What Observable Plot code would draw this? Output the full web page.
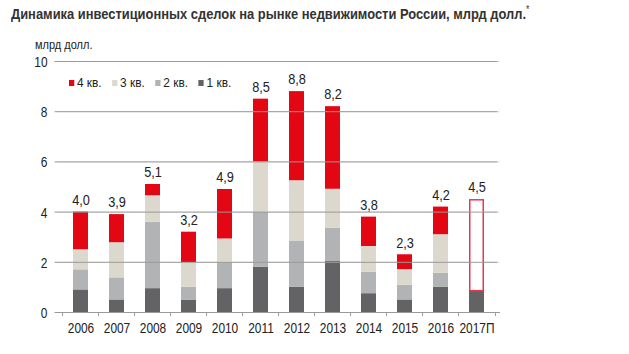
<!DOCTYPE html>
<html>
<head>
<meta charset="utf-8">
<script src="https://cdn.jsdelivr.net/npm/d3@7"></script>
<script src="https://cdn.jsdelivr.net/npm/@observablehq/plot@0.6"></script>
<style>
  html, body { margin: 0; padding: 0; background: #fff; }
  #wrap { position: relative; width: 629px; height: 354px; overflow: hidden; font-family: "Liberation Sans", Arial, sans-serif; }
  #title { position: absolute; left: 11px; top: 4px; font-weight: bold; font-size: 15px; color: #333; white-space: nowrap; transform: scaleX(0.86); transform-origin: left center; }
  #title sup { font-size: 10px; font-weight: normal; }
  #unit { position: absolute; left: 35px; top: 38px; font-size: 12.5px; line-height: 14px; color: #222; transform: scaleX(0.88); transform-origin: left center; }
  #legend { position: absolute; left: 69px; top: 75px; font-size: 13.5px; color: #222; display: flex; transform: scaleX(0.88); transform-origin: left center; }
  #legend span.item { display: inline-flex; align-items: center; margin-right: 12px; }
  #legend span.sw { width: 6px; height: 6px; display: inline-block; margin-right: 3px; }
  #chart { position: absolute; left: 0; top: 0; }
</style>
</head>
<body>
<div id="wrap">
  <div id="chart"></div>
  <div id="title">Динамика инвестиционных сделок на рынке недвижимости России, млрд долл.<sup>*</sup></div>
  <div id="unit">млрд долл.</div>
  <div id="legend"></div>
</div>
<script>
const years = ["2006","2007","2008","2009","2010","2011","2012","2013","2014","2015","2016","2017П"];
const q1 = [0.90, 0.50, 0.95, 0.48, 0.95, 1.80, 1.00, 2.03, 0.75, 0.50, 1.00, 0.85];
const q2 = [0.80, 0.88, 2.65, 0.53, 1.05, 2.20, 1.85, 1.33, 0.85, 0.58, 0.57, 0];
const q3 = [0.80, 1.40, 1.05, 0.98, 0.93, 2.00, 2.40, 1.55, 1.03, 0.63, 1.53, 0];
const q4 = [1.50, 1.12, 0.45, 1.21, 1.97, 2.50, 3.55, 3.29, 1.17, 0.59, 1.10, 0];
const totals = [4.0, 3.9, 5.1, 3.2, 4.9, 8.5, 8.8, 8.2, 3.8, 2.3, 4.2, 4.5];
const forecastYear = "2017П";
const seriesNames = ["1 кв.", "2 кв.", "3 кв.", "4 кв."];
const seriesColors = ["#636366", "#b2b3b5", "#ddd8ce", "#e30613"];
const yTicks = [0, 2, 4, 6, 8, 10];

const long = [];
years.forEach((yr, i) => {
  [q1, q2, q3, q4].forEach((arr, k) => {
    if (arr[i] > 0) long.push({year: yr, series: seriesNames[k], value: arr[i], order: k});
  });
});
const forecast = years.map((yr, i) => ({year: yr, base: q1[i], total: totals[i]})).filter(d => d.year === forecastYear);
const labels = years.map((yr, i) => ({year: yr, total: totals[i], text: totals[i].toFixed(1).replace(".", ",")}));

const W = 629, H = 344, mL = 57, mR = 129;
const pIn = 0.59, pOut = 0.3;
const step = (W - mL - mR) / (years.length - pIn + 2 * pOut);

const chart = Plot.plot({
  width: W, height: H,
  marginTop: 61, marginBottom: 32, marginLeft: mL, marginRight: mR,
  style: {fontFamily: '"Liberation Sans", Arial, sans-serif', fontSize: "12.5px", color: "#222", background: "transparent"},
  x: {domain: years, paddingInner: pIn, paddingOuter: pOut, label: null, axis: null},
  y: {domain: [0, 10], label: null, axis: null},
  color: {domain: seriesNames, range: seriesColors},
  marks: [
    Plot.ruleY(yTicks.filter(t => t > 0), {stroke: "#e6e6e6", strokeWidth: 1}),
    Plot.barY(long, {x: "year", y: "value", fill: "series", order: "order", z: "series"}),
    Plot.barY(forecast, {x: "year", y1: "base", y2: "total", fill: "#fff", stroke: "#e8394a", strokeWidth: 1.5, insetLeft: 0.75, insetRight: 0.75, insetTop: 0.75}),
    Plot.text(labels, {x: "year", y: "total", text: "text", dy: -12, fontSize: 15, fill: "#222"}),
    // axes
    Plot.ruleX([0], {frameAnchor: "left", stroke: "#9a9a9a"}),
    Plot.ruleY([0], {stroke: "#9a9a9a"}),
    Plot.tickY(yTicks, {y: d => d, frameAnchor: "left", dx: -2.5, stroke: "#9a9a9a"}),
    Plot.text(yTicks, {y: d => d, frameAnchor: "left", dx: -10, dy: 1, textAnchor: "end", text: d => String(d), fontSize: 14, fill: "#222"}),
    Plot.ruleX(years, {x: d => d, y1: 0, y2: 0, dx: -step / 2, insetBottom: -4, stroke: "#9a9a9a"}),
    Plot.ruleX([years[years.length - 1]], {x: d => d, y1: 0, y2: 0, dx: step / 2, insetBottom: -4, stroke: "#9a9a9a"}),
    Plot.text(years, {x: d => d, y: 0, dy: 16, text: d => d, fontSize: 14, fill: "#222"})
  ]
});
document.getElementById("chart").appendChild(chart);
chart.querySelectorAll("text").forEach(t => {
  const len = t.getComputedTextLength();
  if (len > 0) {
    t.setAttribute("textLength", (len * 0.85).toFixed(2));
    t.setAttribute("lengthAdjust", "spacingAndGlyphs");
  }
});

const legend = document.getElementById("legend");
[3, 2, 1, 0].forEach(k => {
  const it = document.createElement("span");
  it.className = "item";
  it.innerHTML = `<span class="sw" style="background:${seriesColors[k]}"></span>${seriesNames[k].replace(" ", "&nbsp;")}`;
  legend.appendChild(it);
});
</script>
</body>
</html>
